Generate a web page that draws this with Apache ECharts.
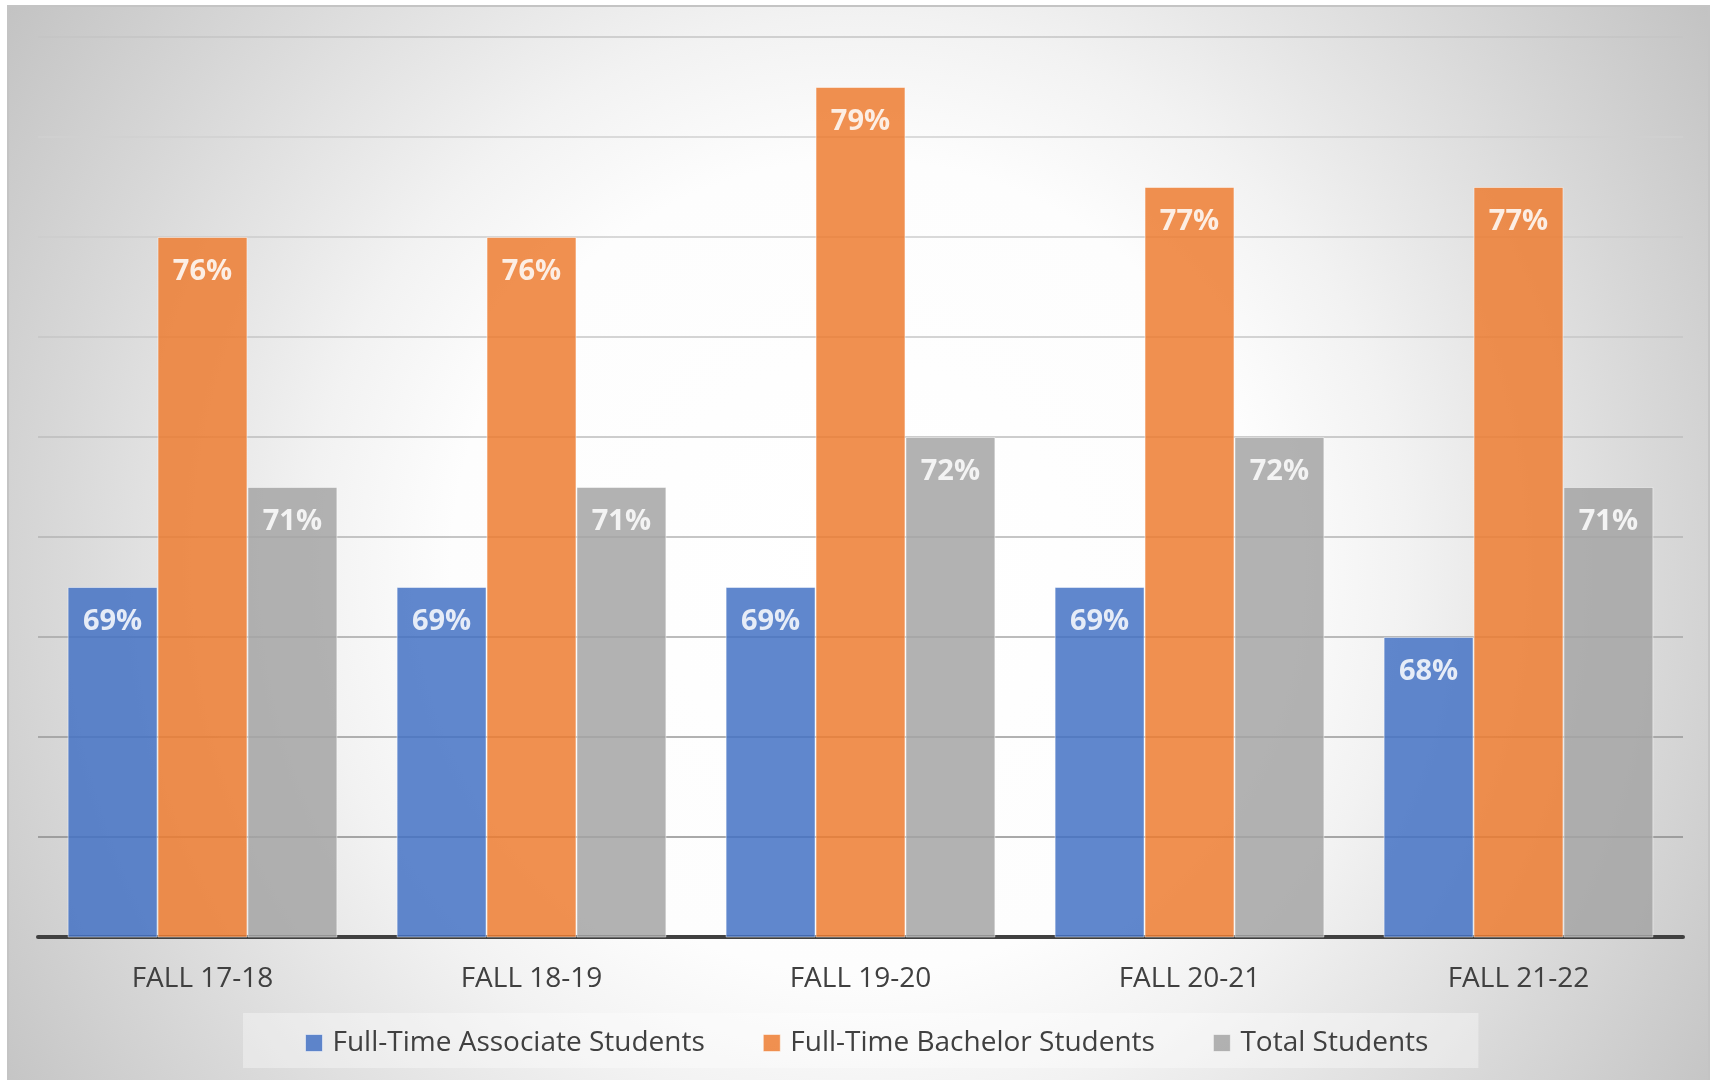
<!DOCTYPE html>
<html>
<head>
<meta charset="utf-8">
<script src="https://cdn.jsdelivr.net/npm/echarts@6/dist/echarts.min.js"></script>
<style>
  html, body { margin: 0; padding: 0; background: #ffffff; }
  #bg {
    position: absolute; left: 7px; top: 5px; width: 1703px; height: 1080px;
    border: 2px solid #c4c4c4; box-sizing: border-box;
    background: radial-gradient(circle farthest-corner at 50% 52%, #ffffff 0%, #fdfdfd 40%, #f2f2f2 54%, #d7d7d7 80%, #c3c3c3 100%);
  }
  #chart { position: absolute; left: 0; top: 0; width: 1717px; height: 1080px; }
</style>
</head>
<body>
<div id="bg"></div>
<div id="chart"></div>
<script>
const categories = ['FALL 17-18', 'FALL 18-19', 'FALL 19-20', 'FALL 20-21', 'FALL 21-22'];
const associate = [69, 69, 69, 69, 68];
const bachelor = [76, 76, 79, 77, 77];
const total = [71, 71, 72, 72, 71];
const seriesNames = ['Full-Time Associate Students', 'Full-Time Bachelor Students', 'Total Students'];
const colors = ['#4472C4', '#ED7D31', '#A5A5A5'];

const chart = echarts.init(document.getElementById('chart'), null, { renderer: 'canvas' });

function barSeries(name, data, color) {
  return {
    name: name,
    type: 'bar',
    data: data,
    barGap: '0%',
    barCategoryGap: '18%',
    itemStyle: { color: color, opacity: 0.85, borderColor: 'rgba(255,255,255,0.55)', borderWidth: 1 },
    label: {
      show: true,
      position: 'insideTop',
      distance: 20,
      formatter: '{c}%',
      color: '#ffffff',
      fontFamily: 'Open Sans',
      fontWeight: 'bold',
      fontSize: 29
    },
    emphasis: { disabled: true }
  };
}

chart.setOption({
  backgroundColor: 'transparent',
  animation: false,
  grid: { left: 38, right: 34, top: 37, bottom: 143, containLabel: false },
  legend: {
    data: seriesNames.map((n, i) => ({ name: n, itemStyle: { color: colors[i], opacity: 0.85, borderColor: 'rgba(255,255,255,0.6)', borderWidth: 1 } })),
    left: 243,
    top: 1013,
    padding: [16, 50, 11, 62],
    itemGap: 58,
    itemWidth: 17,
    itemHeight: 17,
    icon: 'rect',
    backgroundColor: 'rgba(255,255,255,0.35)',
    textStyle: { fontFamily: 'Open Sans', fontSize: 28, color: '#404040', padding: [0, 0, 0, 5] }
  },
  xAxis: {
    type: 'category',
    data: categories,
    axisLine: { show: true, lineStyle: { color: '#404040', width: 4 } },
    axisTick: { show: false },
    axisLabel: { color: '#404040', fontFamily: 'Open Sans', fontSize: 28, margin: 28 }
  },
  yAxis: {
    type: 'value',
    min: 62,
    max: 80,
    interval: 2,
    axisLine: { show: false },
    axisTick: { show: false },
    axisLabel: { show: false },
    splitLine: {
      show: true,
      lineStyle: {
        width: 1.5,
        color: ['#8a8a8a', '#8c8c8c', '#999999', '#a6a6a6', '#b3b3b3', '#bdbdbd', '#c6c6c6', '#cccccc', '#d0d0d0', '#c4c4c4']
      }
    }
  },
  series: [
    barSeries(seriesNames[0], associate, colors[0]),
    barSeries(seriesNames[1], bachelor, colors[1]),
    barSeries(seriesNames[2], total, colors[2])
  ]
});
</script>
</body>
</html>
